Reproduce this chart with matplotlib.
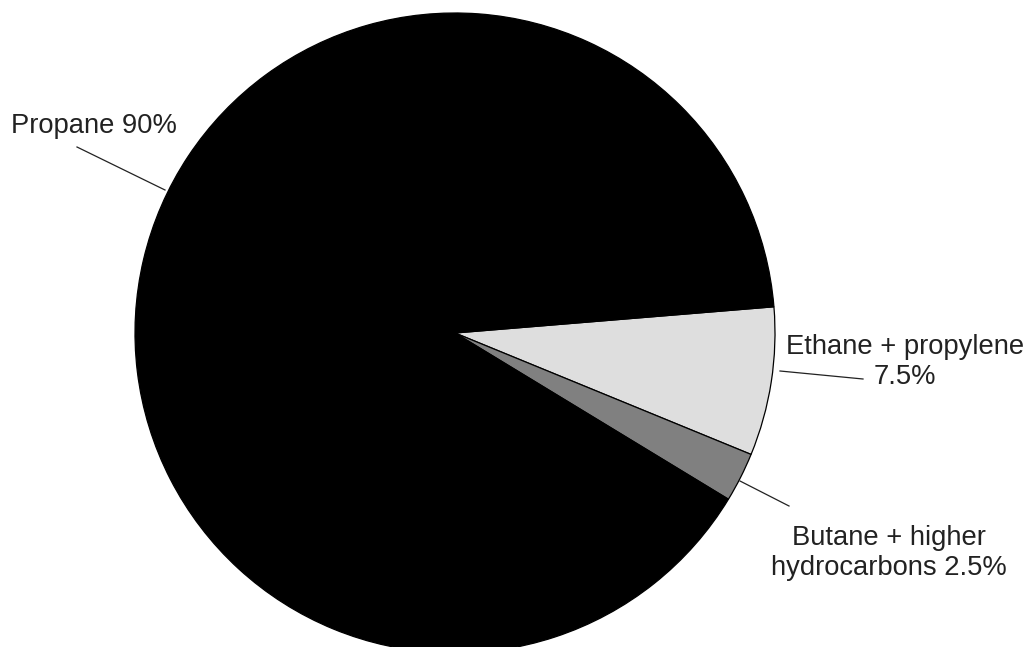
import matplotlib
matplotlib.use("Agg")
import matplotlib.pyplot as plt

plt.rcParams["font.family"] = ["Liberation Sans", "DejaVu Sans"]

# Composition of the gas mixture (percent)
labels = ["Ethane + propylene\n7.5%", "Butane + higher\nhydrocarbons 2.5%", "Propane 90%"]
shares = [7.5, 2.5, 90.0]
colors = ["#dedede", "#808080", "#000000"]

W, H, DPI = 1034, 647, 100
CX, CY, R = 455, 333, 320  # pie centre and radius in pixels


def px(x, y):
    """Pixel position -> data coordinates of the pie axes."""
    return (x - CX) / R, (CY - y) / R


fig = plt.figure(figsize=(W / DPI, H / DPI), dpi=DPI)
ax = fig.add_axes([0, 0, 1, 1])
ax.pie(shares, colors=colors, startangle=4.7, counterclock=False, radius=1.0,
       wedgeprops=dict(edgecolor="black", linewidth=0.9))
x0, y0 = px(0, H)
x1, y1 = px(W, 0)
ax.set_xlim(x0, x1)
ax.set_ylim(y0, y1)
ax.set_aspect("equal")
ax.axis("off")

text_kw = dict(fontsize=19.7, color="#222222")
line_kw = dict(color="#222222", linewidth=0.9)

# Propane
ax.plot(*zip(px(77, 147), px(165, 190)), **line_kw)
ax.text(*px(11, 133), labels[2], ha="left", va="baseline", **text_kw)

# Ethane + propylene
ax.plot(*zip(px(780, 371), px(863, 379)), **line_kw)
ax.text(*px(905, 384), labels[0], ha="center", va="baseline",
        multialignment="center", linespacing=1.2, **text_kw)

# Butane + higher hydrocarbons
ax.plot(*zip(px(740, 481), px(789, 506)), **line_kw)
ax.text(*px(889, 575), labels[1], ha="center", va="baseline",
        multialignment="center", linespacing=1.2, **text_kw)

fig.savefig("out.png", dpi=DPI)
